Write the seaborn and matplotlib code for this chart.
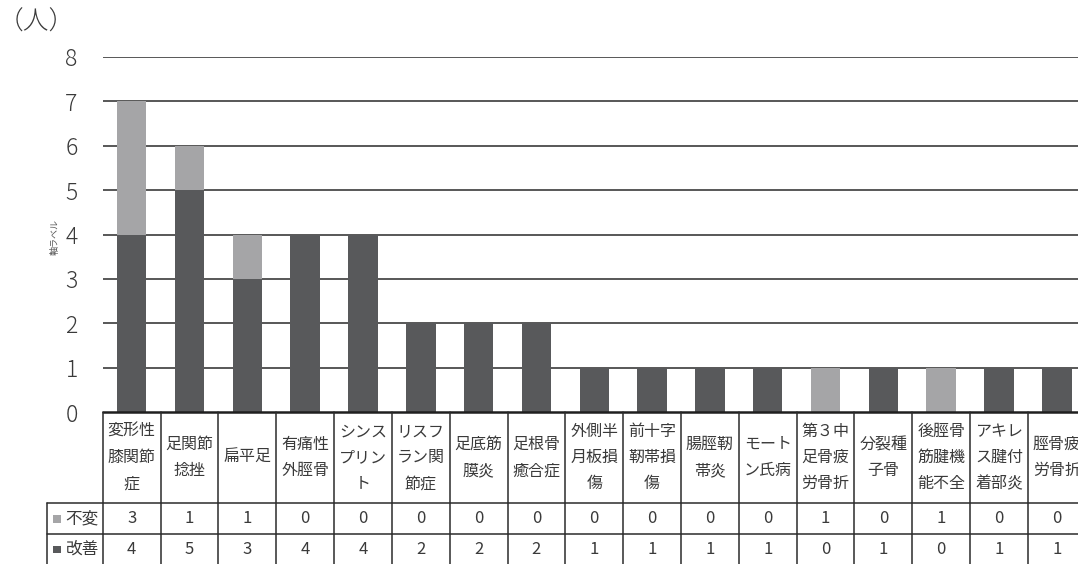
import numpy as np
import pandas as pd
import matplotlib
matplotlib.use("Agg")
import matplotlib.pyplot as plt
import matplotlib.transforms as mtransforms
from matplotlib.patches import Rectangle
import seaborn as sns

# ---- data ----
categories = ["変形性膝関節症", "足関節捻挫", "扁平足", "有痛性外脛骨", "シンスプリント",
              "リスフラン関節症", "足底筋膜炎", "足根骨癒合症", "外側半月板損傷", "前十字靭帯損傷",
              "腸脛靭帯炎", "モートン氏病", "第３中足骨疲労骨折", "分裂種子骨", "後脛骨筋腱機能不全",
              "アキレス腱付着部炎", "脛骨疲労骨折"]
unchanged = [3, 1, 1, 0, 0, 0, 0, 0, 0, 0, 0, 0, 1, 0, 1, 0, 0]   # 不変
improved = [4, 5, 3, 4, 4, 2, 2, 2, 1, 1, 1, 1, 0, 1, 0, 1, 1]    # 改善
series_names = ["不変", "改善"]
yticks = list(range(0, 9))

# ---- style ----
sns.set_style("white")
FONT = ["Noto Sans CJK JP", "DejaVu Sans"]
plt.rcParams["font.family"] = FONT

C_LIGHT = "#a5a5a7"
C_DARK = "#58595b"
TXT = "#3a3a3a"
LINE = "#2b2b2b"

W, H = 1078, 564
fig = plt.figure(figsize=(W / 100, H / 100), dpi=100)

ax_left, ax_right = 102.7, 1085.8
ax_top, ax_bot = 56.7, 412.3
ax = fig.add_axes([ax_left / W, 1 - ax_bot / H, (ax_right - ax_left) / W, (ax_bot - ax_top) / H])

df = pd.DataFrame({"cat": categories,
                   "unchanged": unchanged,
                   "improved": improved})
df["total"] = df["unchanged"] + df["improved"]

sns.barplot(data=df, x="cat", y="total", color=C_LIGHT, width=0.51,
            saturation=1, ax=ax, zorder=3, linewidth=0, edgecolor="none")
sns.barplot(data=df, x="cat", y="improved", color=C_DARK, width=0.51,
            saturation=1, ax=ax, zorder=4, linewidth=0, edgecolor="none")

n = len(categories)
ax.set_xlim(-0.5, n - 0.5)
ax.set_ylim(0, 8)
ax.set_yticks(yticks)
ax.set_yticklabels([str(v) for v in yticks], fontsize=16.5, color=TXT,
                   fontweight="light")
ax.tick_params(axis="y", length=0, pad=18)
ax.set_xticks([])
ax.set_xlabel("")
ax.set_ylabel("")
for s in ax.spines.values():
    s.set_visible(False)
for v in yticks[1:]:
    ax.axhline(v, color="#4a4a4a", lw=1.3, zorder=1)
ax.axhline(0, color="#1f1f1f", lw=1.8, zorder=5, clip_on=False)

# axis title & unit
fig.text(55 / W, 1 - 237 / H, "軸ラベル", rotation=90, fontsize=6.5,
         color="#555555", ha="center", va="center")
fig.text(-2 / W, 1 - 22 / H, "（人）", fontsize=18.5, color=TXT,
         ha="left", va="center", fontweight="light")

# ---- data table ----
def fy(py):
    return 1 - py / H

def fx(px):
    return px / W

trans = mtransforms.blended_transform_factory(ax.transData, fig.transFigure)
row1_top, row2_top, tbl_bot = 503.0, 534.3, 566.0
lab_left = 46.7

def wrap(s, k=3):
    return "\n".join(s[i:i + k] for i in range(0, len(s), k))

for i in range(n + 1):
    x = i - 0.5
    ax.plot([x, x], [fy(ax_bot), fy(tbl_bot)], color=LINE, lw=1.1,
            transform=trans, clip_on=False, zorder=6)

for yy in (row1_top, row2_top):
    fig.add_artist(plt.Line2D([fx(lab_left), fx(ax_right + 5)], [fy(yy), fy(yy)],
                              color=LINE, lw=1.1))
fig.add_artist(plt.Line2D([fx(lab_left), fx(lab_left)], [fy(row1_top), fy(tbl_bot)],
                          color=LINE, lw=1.1))

header_cy = (ax_bot + row1_top) / 2
for i, c in enumerate(categories):
    ax.text(i, fy(header_cy), wrap(c), transform=trans, ha="center", va="center",
            fontsize=11.5, color=TXT, linespacing=1.7, multialignment="center",
            clip_on=False)
    ax.text(i, fy((row1_top + row2_top) / 2), str(unchanged[i]), transform=trans,
            ha="center", va="center", fontsize=12, color=TXT, clip_on=False)
    ax.text(i, fy((row2_top + tbl_bot - 2) / 2), str(improved[i]), transform=trans,
            ha="center", va="center", fontsize=12, color=TXT, clip_on=False)

for (yy0, yy1), name, col in zip([(row1_top, row2_top), (row2_top, tbl_bot - 2)],
                                 series_names, [C_LIGHT, C_DARK]):
    cy = (yy0 + yy1) / 2
    fig.add_artist(Rectangle((fx(53.3), fy(cy + 4)), 7.6 / W, 7.6 / H,
                             facecolor=col, edgecolor="none",
                             transform=fig.transFigure))
    fig.text(fx(65.5), fy(cy), name, fontsize=12, color=TXT,
             ha="left", va="center")

fig.savefig("out.png", dpi=100)
